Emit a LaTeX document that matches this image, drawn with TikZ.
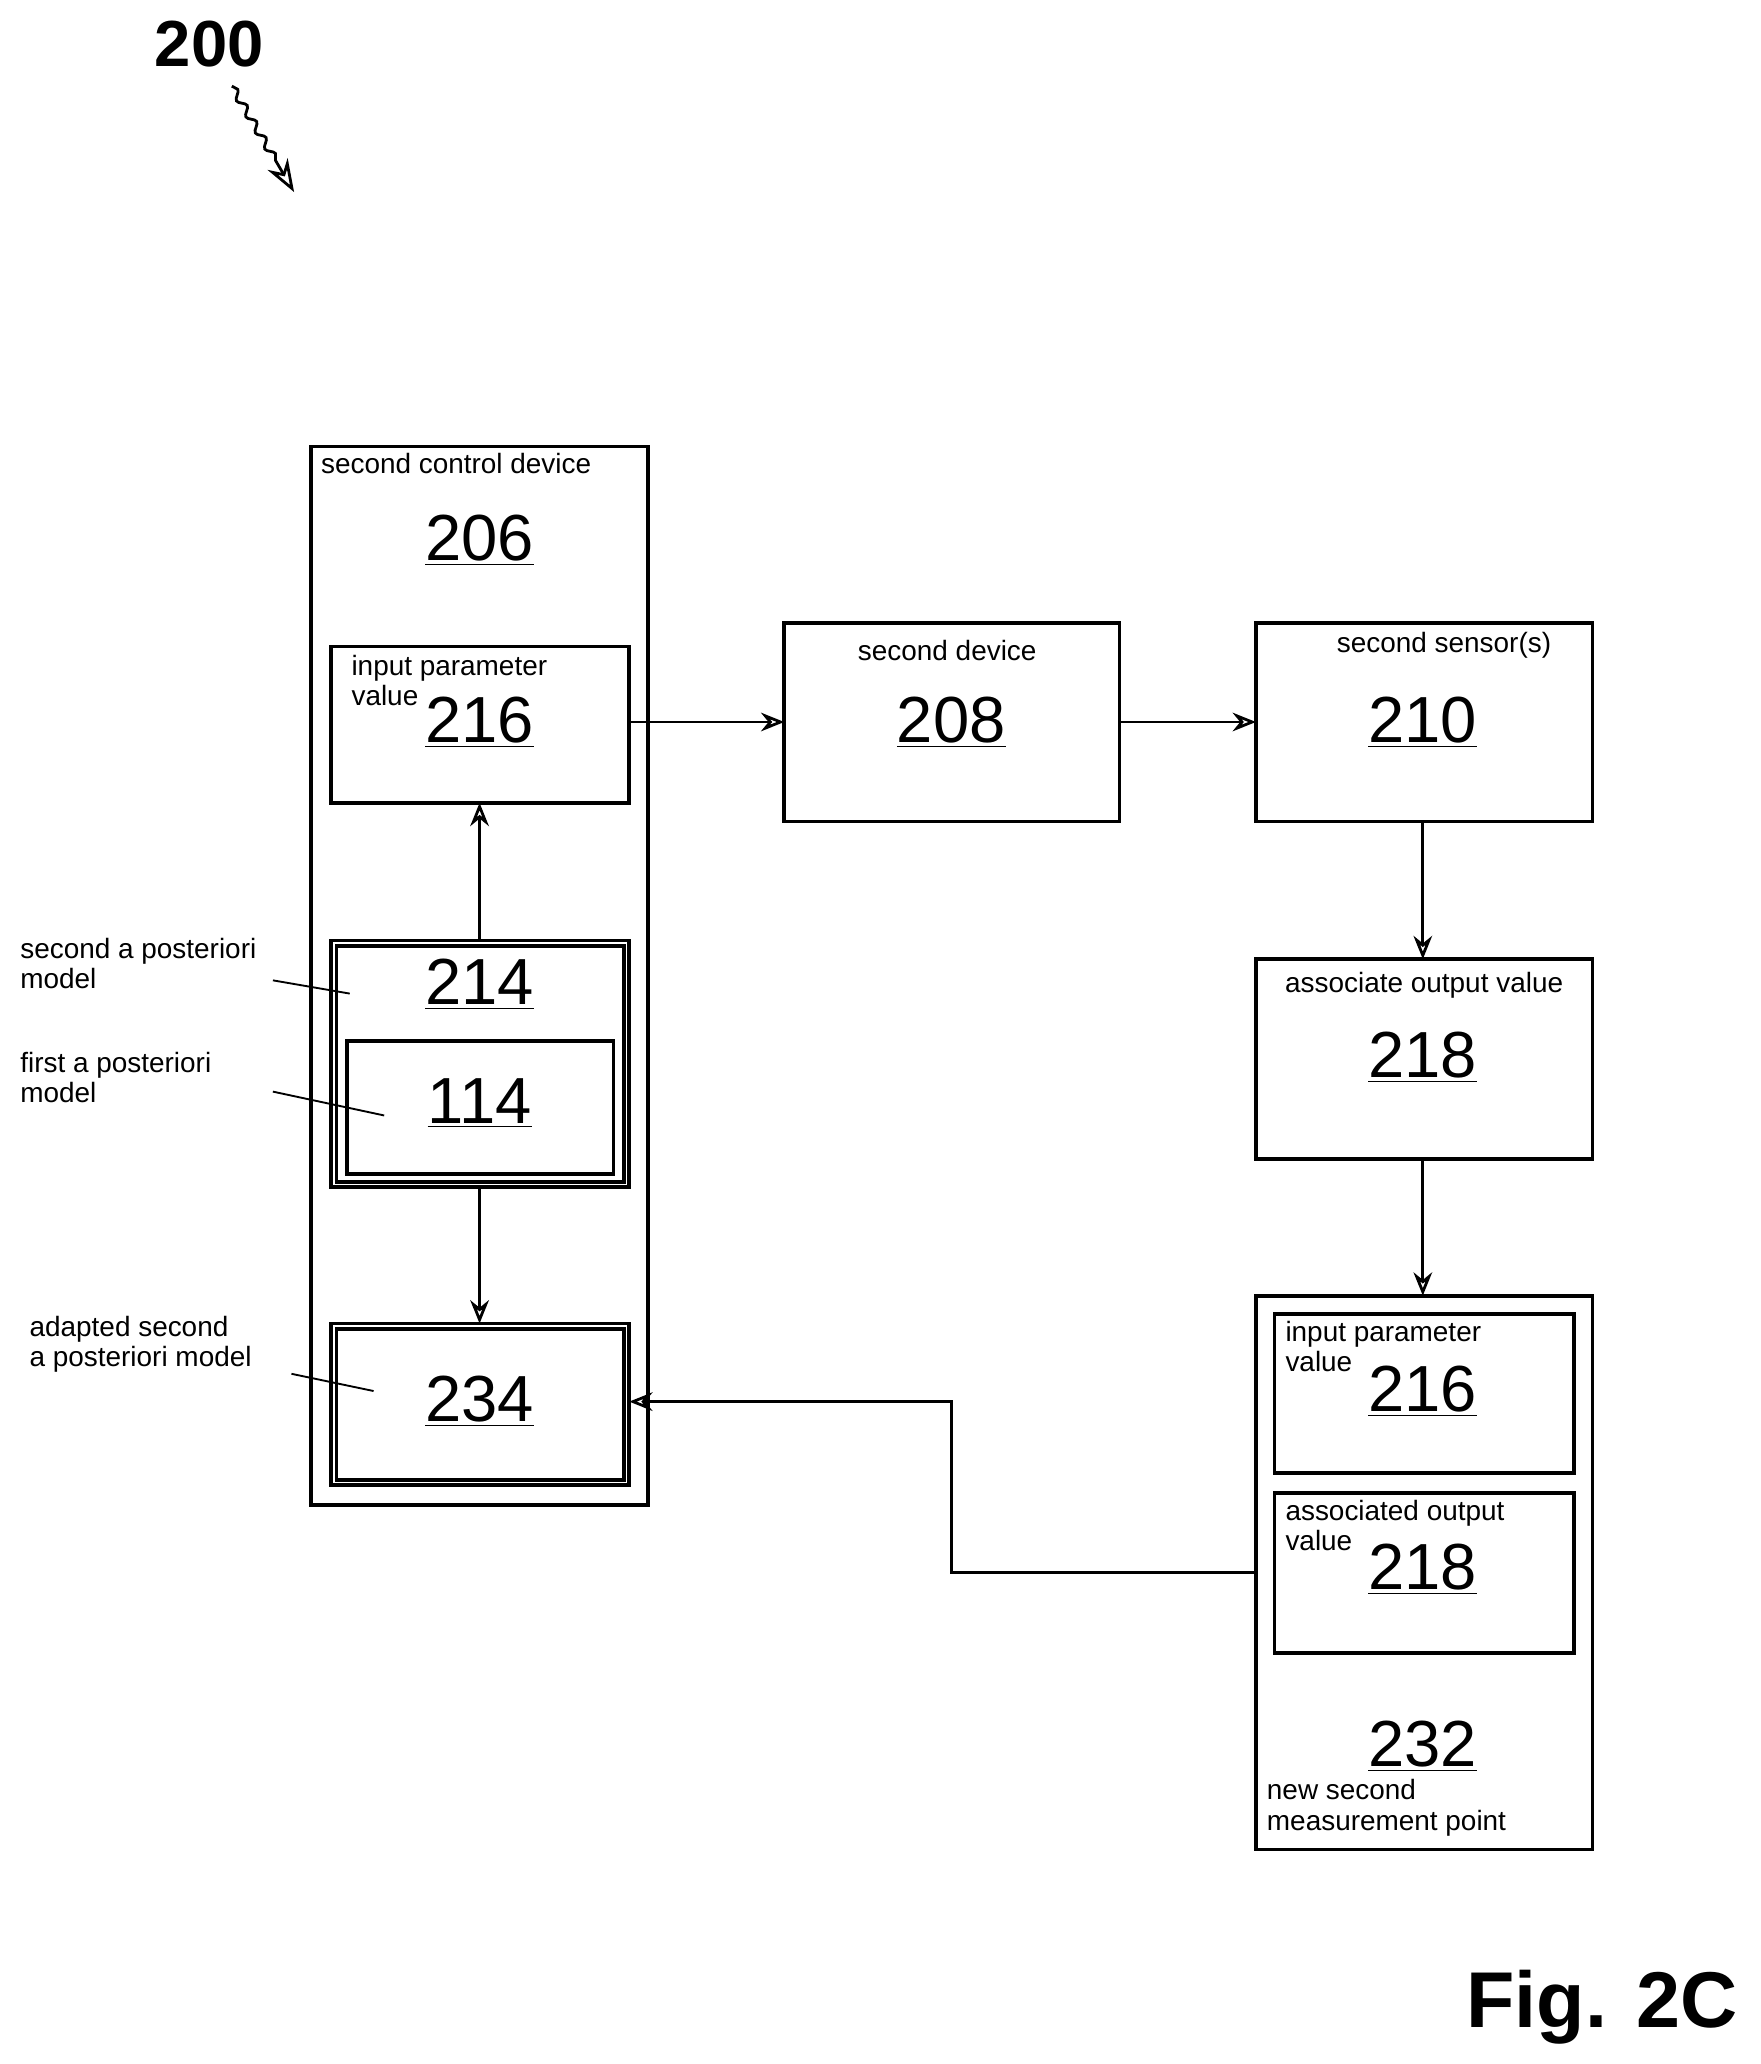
\documentclass[tikz,border=0pt]{standalone}
\usepackage{fontspec}
\setmainfont{Liberation Sans}
\usetikzlibrary{arrows.meta,decorations.pathmorphing}
\tikzset{
  blk/.style={draw, line width=1.6pt},
  num/.style={font=\fontsize{28}{30}\selectfont},
  lbl/.style={font=\fontsize{12}{13}\selectfont, align=left, inner sep=0pt},
  flow/.style={line width=1.2pt, -{Stealth[length=10pt,width=8pt,open]}}
}
\newcommand{\ul}[1]{\underline{#1}}
\begin{document}
\begin{tikzpicture}[x={(0.02cm,0)},y={(0,-0.02cm)}]
\useasboundingbox (0,0) rectangle (1329,1558);
% figure reference
\node[num, font=\fontsize{28}{30}\selectfont\bfseries] (fig) at (158,33) {200};
\coordinate (figend) at (222,145);
\draw[line width=1.2pt, decorate, decoration={snake,amplitude=1.5pt,segment length=8pt,post length=14pt}, -{Stealth[length=14pt,width=10pt,open]}] (175,65) -- (figend);
% control device
\draw[blk] (235,337) rectangle (489,1136);
\node[lbl, anchor=north west] (cdl) at (242,342) {second control device};
\node[num] (n206) at (362,408) {\ul{206}};
\draw[blk] (250,488) rectangle (475,606);
\node[lbl, anchor=north west] at (265,494) {input parameter\\value};
\node[num] at (362,545) {\ul{216}};
\draw[blk] (250,710) rectangle (475,896);
\draw[blk] (254,714) rectangle (471,892);
\node[num] at (362,743) {\ul{214}};
\draw[blk] (262,786) rectangle (463,886);
\node[num] at (362,833) {\ul{114}};
\draw[blk] (250,999) rectangle (475,1121);
\draw[blk] (254,1003) rectangle (471,1117);
\node[num] at (362,1058) {\ul{234}};
% right chain
\draw[blk] (592,470) rectangle (845,620);
\node[lbl] at (715,491) {second device};
\node[num] at (718,545) {\ul{208}};
\draw[blk] (948,470) rectangle (1202,620);
\node[lbl] at (1090,487) {second sensor(s)};
\node[num] at (1074,545) {\ul{210}};
\draw[blk] (948,724) rectangle (1202,875);
\node[lbl] at (1075,744) {associate output value};
\node[num] at (1074,798) {\ul{218}};
\draw[blk] (948,978) rectangle (1202,1396);
\draw[blk] (962,992) rectangle (1188,1112);
\node[lbl, anchor=north west] at (970,997) {input parameter\\value};
\node[num] at (1074,1050) {\ul{216}};
\draw[blk] (962,1127) rectangle (1188,1248);
\node[lbl, anchor=north west] at (970,1132) {associated output\\value};
\node[num] at (1074,1185) {\ul{218}};
\node[num] at (1074,1318) {\ul{232}};
\node[lbl, anchor=north west] at (956,1343) {new second\\measurement point};
% connectors
\draw[flow] (475,545) -- (592,545);
\draw[flow] (845,545) -- (948,545);
\draw[flow] (1074,620) -- (1074,724);
\draw[flow] (1074,875) -- (1074,978);
\draw[flow] (362,710) -- (362,606);
\draw[flow] (362,896) -- (362,999);
\draw[flow] (948,1187) -- (718,1187) -- (718,1058) -- (475,1058);
% side labels
\node[lbl, anchor=north west] at (15,708) {second a posteriori\\model};
\draw[line width=0.8pt] (206,740) -- (264,750);
\node[lbl, anchor=north west] at (15,794) {first a posteriori\\model};
\draw[line width=0.8pt] (206,824) -- (290,842);
\node[lbl, anchor=north west] at (22,993) {adapted second\\a posteriori model};
\draw[line width=0.8pt] (220,1037) -- (282,1050);
\node[font=\fontsize{34}{36}\selectfont\bfseries, anchor=east, inner sep=0pt] at (1312,1515) {Fig. 2C};
\end{tikzpicture}
\end{document}
